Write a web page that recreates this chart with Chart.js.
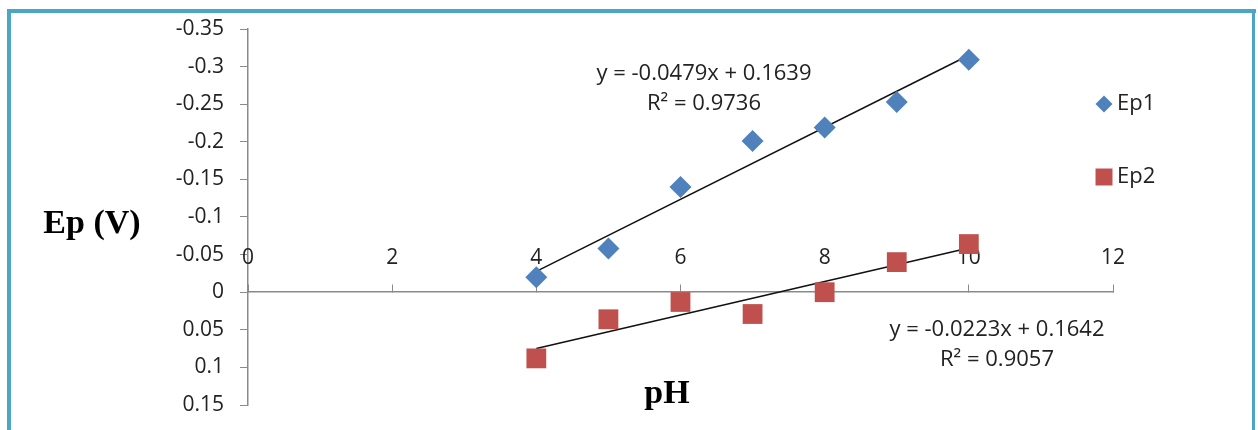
<!DOCTYPE html>
<html>
<head>
<meta charset="utf-8">
<script src="https://cdn.jsdelivr.net/npm/chart.js@4.4.0/dist/chart.umd.min.js"></script>
<style>
  html, body { margin: 0; padding: 0; background: #ffffff; }
  #wrap { width: 1258px; height: 430px; }
</style>
</head>
<body>
<div id="wrap"><canvas id="epChart" width="1258" height="430"></canvas></div>
<script>
// pH values and peak potentials (V)
const phValues = [4, 5, 6, 7, 8, 9, 10];
const ep1 = [-0.020, -0.058, -0.140, -0.201, -0.219, -0.253, -0.309];
const ep2 = [0.088, 0.036, 0.013, 0.029, 0.000, -0.040, -0.064];

// linear trendlines as printed on the chart: [slope, intercept]
const trend1 = [-0.0479, 0.1639];
const trend2 = [-0.0223, 0.1642];
const trendLabels1 = ['y = -0.0479x + 0.1639', 'R² = 0.9736'];
const trendLabels2 = ['y = -0.0223x + 0.1642', 'R² = 0.9057'];

const xTicks = [0, 2, 4, 6, 8, 10, 12];
const yTicks = [-0.35, -0.3, -0.25, -0.2, -0.15, -0.1, -0.05, 0, 0.05, 0.1, 0.15];

const blue = '#4F81BD';
const red = '#C0504D';
const font = '"Open Sans", "Liberation Sans", sans-serif';

function toPoints(xs, ys) {
    return xs.map((x, i) => ({ x: x, y: ys[i] }));
}
function trendPoints(t) {
    const x0 = phValues[0], x1 = phValues[phValues.length - 1];
    return [{ x: x0, y: t[0] * x0 + t[1] }, { x: x1, y: t[0] * x1 + t[1] }];
}

// frame, axis titles, x tick labels, trendline labels and legend
const decorations = {
    id: 'decorations',
    beforeDraw(chart) {
        const ctx = chart.ctx;
        ctx.save();
        ctx.fillStyle = '#ffffff';
        ctx.fillRect(0, 0, chart.width, chart.height);
        ctx.fillStyle = '#4BA6C4';
        ctx.fillRect(7, 9, 1249, 4);   // top
        ctx.fillRect(7, 9, 4, 430);    // left
        ctx.fillRect(1252, 9, 3, 430); // right
        ctx.restore();
    },
    beforeDatasetsDraw(chart) {
        // x labels sit above the axis line (reversed value axis, Excel style)
        const ctx = chart.ctx;
        const xs = chart.scales.x, ys = chart.scales.y;
        const axisY = ys.getPixelForValue(0);
        ctx.save();
        ctx.fillStyle = '#222222';
        ctx.font = '21px ' + font;
        ctx.textAlign = 'center';
        ctx.textBaseline = 'middle';
        xTicks.forEach(v => ctx.fillText(String(v), xs.getPixelForValue(v), axisY - 34));
        ctx.restore();
    },
    afterDraw(chart) {
        const ctx = chart.ctx;
        ctx.save();
        ctx.fillStyle = '#000000';
        ctx.textAlign = 'center';
        ctx.textBaseline = 'middle';
        ctx.font = 'bold 34px "Liberation Serif", "Times New Roman", serif';
        ctx.fillText('Ep (V)', 92, 224);
        ctx.fillText('pH', 667, 394);

        ctx.fillStyle = '#222222';
        ctx.font = '22px ' + font;
        ctx.fillText(trendLabels1[0], 704, 74);
        ctx.fillText(trendLabels1[1], 704, 104);
        ctx.fillText(trendLabels2[0], 997, 330);
        ctx.fillText(trendLabels2[1], 997, 360);

        // legend
        const items = [
            { ds: chart.data.datasets[0], y: 104, r: 8.5 },
            { ds: chart.data.datasets[1], y: 177, r: 12 }
        ];
        items.forEach(it => {
            ctx.fillStyle = it.ds.backgroundColor;
            ctx.strokeStyle = it.ds.backgroundColor;
            Chart.helpers.drawPoint(ctx, { pointStyle: it.ds.pointStyle, radius: it.r, borderWidth: 0 }, 1104, it.y);
            ctx.fillStyle = '#222222';
            ctx.textAlign = 'left';
            ctx.font = '22px ' + font;
            ctx.fillText(it.ds.label, 1117, it.y);
        });
        ctx.restore();
    }
};

const ctx = document.getElementById('epChart').getContext('2d');
new Chart(ctx, {
    type: 'scatter',
    data: {
        datasets: [
            {
                label: 'Ep1',
                data: toPoints(phValues, ep1),
                pointStyle: 'rectRot',
                pointRadius: 11,
                pointHoverRadius: 11,
                backgroundColor: blue,
                borderColor: blue,
                borderWidth: 0
            },
            {
                label: 'Ep2',
                data: toPoints(phValues, ep2),
                pointStyle: 'rect',
                pointRadius: 14,
                pointHoverRadius: 14,
                backgroundColor: red,
                borderColor: red,
                borderWidth: 0
            },
            {
                label: 'trend1',
                type: 'line',
                data: trendPoints(trend1),
                borderColor: '#111111',
                borderWidth: 1.5,
                pointRadius: 0,
                fill: false
            },
            {
                label: 'trend2',
                type: 'line',
                data: trendPoints(trend2),
                borderColor: '#111111',
                borderWidth: 1.5,
                pointRadius: 0,
                fill: false
            }
        ]
    },
    options: {
        responsive: false,
        animation: false,
        layout: { padding: { top: 29, bottom: 25, right: 145, left: 0 } },
        plugins: {
            legend: { display: false },
            tooltip: { enabled: false }
        },
        scales: {
            x: {
                type: 'linear',
                min: 0,
                max: 12,
                position: { y: 0 },
                afterBuildTicks: scale => { scale.ticks = xTicks.map(v => ({ value: v })); },
                afterFit: scale => { scale.height = 0; scale.paddingLeft = 0; scale.paddingRight = 0; },
                grid: { display: true, drawOnChartArea: false, tickLength: -8, color: '#8a8a8a', tickWidth: 1 },
                border: { color: '#8a8a8a', width: 1.5 },
                ticks: { display: false }
            },
            y: {
                type: 'linear',
                min: -0.35,
                max: 0.15,
                reverse: true,
                afterBuildTicks: scale => { scale.ticks = yTicks.map(v => ({ value: v })); },
                afterFit: scale => { scale.width = 248; scale.paddingTop = 0; scale.paddingBottom = 0; },
                grid: { display: true, drawOnChartArea: false, tickLength: 8, color: '#8a8a8a' },
                border: { color: '#8a8a8a', width: 1.5 },
                ticks: {
                    padding: 16,
                    color: '#222222',
                    font: { family: font, size: 21 },
                    callback: v => String(v)
                }
            }
        }
    },
    plugins: [decorations]
});
</script>
</body>
</html>
